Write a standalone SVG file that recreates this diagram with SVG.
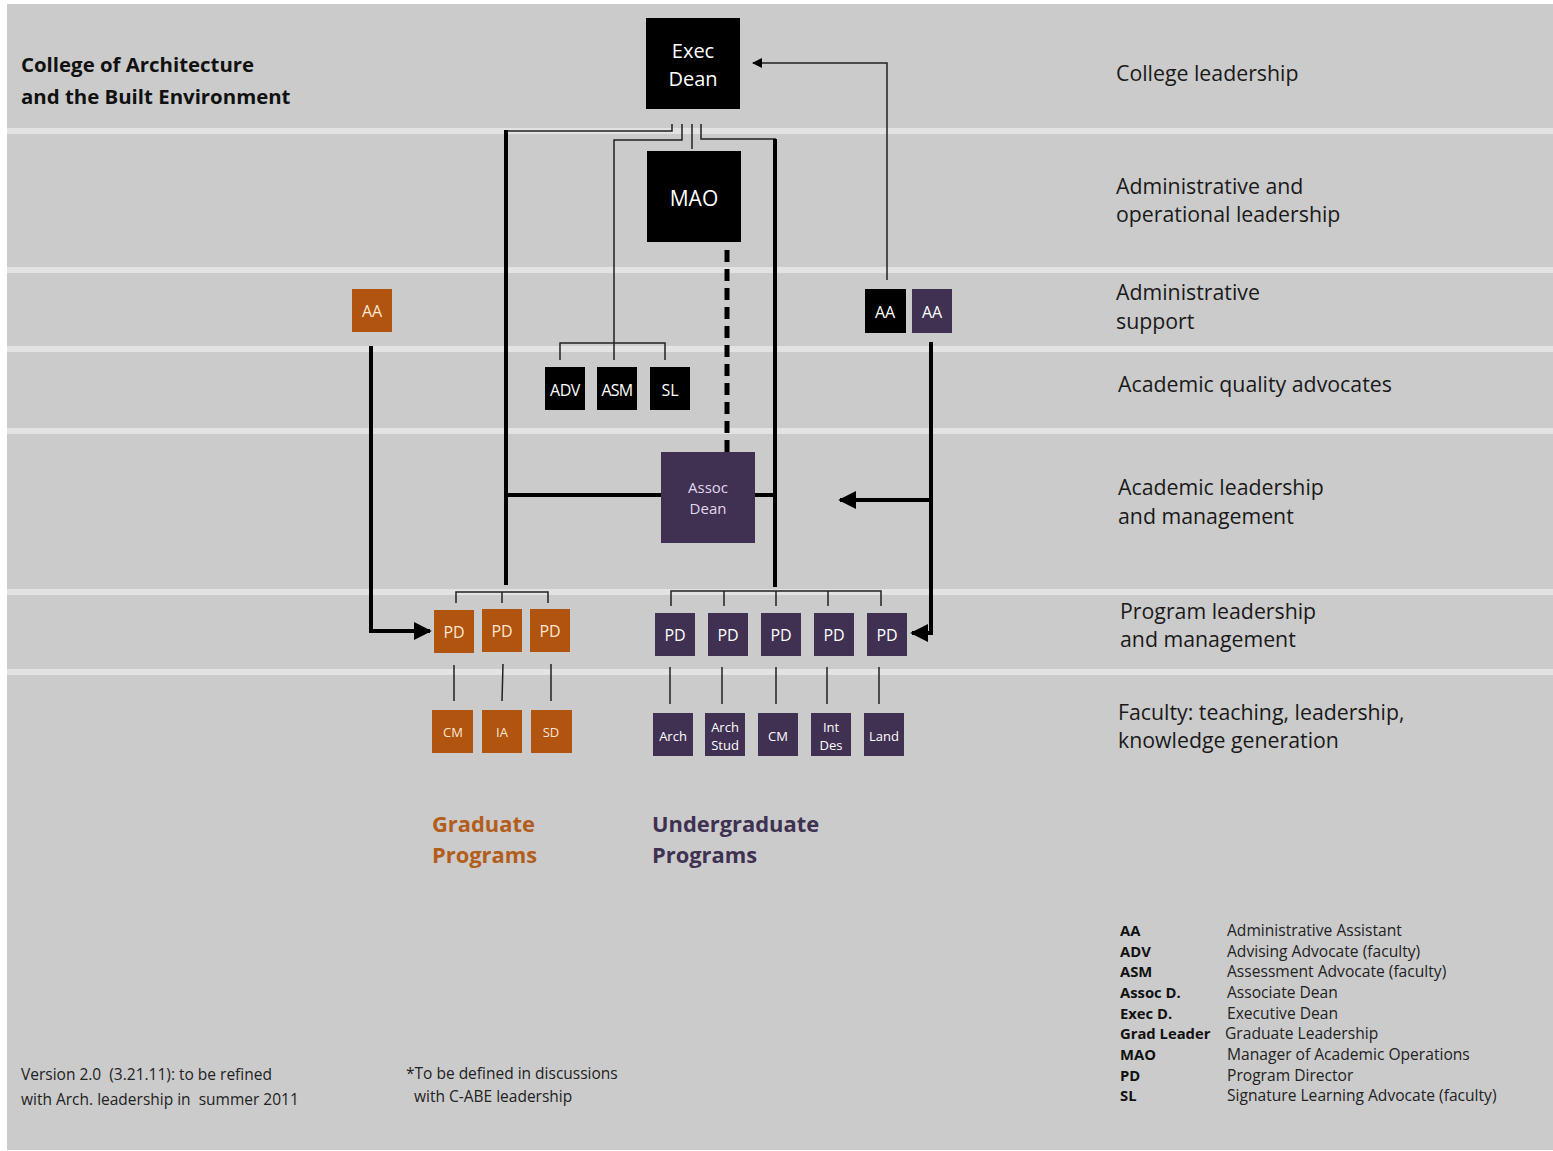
<svg xmlns="http://www.w3.org/2000/svg" width="1553" height="1151" viewBox="0 0 1553 1151">
<defs>
<style>
.bg{fill:#cbcbcb}
.stripe{fill:#e3e3e3}
.blk{fill:#000}
.org{fill:#b0540f}
.pur{fill:#403052}
.t{font-family:"Open Sans","DejaVu Sans",sans-serif;white-space:pre}
.wt{fill:#fff;text-anchor:middle}
.ot{fill:#fbe6d2;text-anchor:middle}
.lt{fill:#1a1a1a;font-size:21.3px}
.lg{fill:#222;font-size:15.6px}
.lgb{fill:#111;font-size:14.8px;font-weight:bold}
.nt{fill:#222;font-size:15.5px}
.thin{stroke:#222;stroke-width:1.5;fill:none}
.thick{stroke:#000;stroke-width:4;fill:none}
</style>
<marker id="ah" viewBox="0 0 10 10" refX="9" refY="5" markerWidth="4.5" markerHeight="4.5" orient="auto" markerUnits="strokeWidth"><path d="M0,0 L10,5 L0,10 z" fill="#000"/></marker>
<marker id="ah2" viewBox="0 0 10 10" refX="9" refY="5" markerWidth="7" markerHeight="7" orient="auto" markerUnits="strokeWidth"><path d="M0,0 L10,5 L0,10 z" fill="#000"/></marker>
</defs>
<rect x="0" y="0" width="1553" height="1151" fill="#fff"/>
<rect class="bg" x="7" y="4" width="1546" height="1146"/>
<g id="stripes">
<rect class="stripe" x="7" y="128" width="1546" height="6"/>
<rect class="stripe" x="7" y="267" width="1546" height="6"/>
<rect class="stripe" x="7" y="346" width="1546" height="6"/>
<rect class="stripe" x="7" y="428" width="1546" height="6"/>
<rect class="stripe" x="7" y="589" width="1546" height="6"/>
<rect class="stripe" x="7" y="669" width="1546" height="6"/>
</g>
<g id="connectors">
<polyline class="thin" points="506,131 672,131 672,124"/>
<polyline class="thin" points="682,124 682,140 614,140 614,360"/>
<line class="thin" x1="692" y1="124" x2="692" y2="149"/>
<polyline class="thin" points="701,124 701,139 776,139"/>
<line class="thick" x1="506" y1="130" x2="506" y2="585"/>
<line class="thick" x1="775" y1="139" x2="775" y2="587"/>
<line class="thick" x1="506" y1="495" x2="661" y2="495"/>
<line class="thick" x1="755" y1="495" x2="775" y2="495"/>
<line x1="727" y1="250" x2="727" y2="452" stroke="#000" stroke-width="5" stroke-dasharray="12,7"/>
<polyline class="thin" points="560,360 560,343 665,343 665,360"/>
<polyline class="thick" points="371,346 371,631 430,631" marker-end="url(#ah)"/>
<polyline class="thin" points="887,280 887,63 753,63" marker-end="url(#ah2)" stroke="#000" stroke-width="2"/>
<polyline class="thick" points="931,342 931,633 912,633" marker-end="url(#ah)"/>
<polyline class="thick" points="931,500 840,500" marker-end="url(#ah)" stroke-width="3"/>
<polyline class="thin" points="456,603 456,592 548,592 548,603"/>
<line class="thin" x1="502" y1="592" x2="502" y2="603"/>
<polyline class="thin" points="671,606 671,591 881,591 881,606"/>
<line class="thin" x1="724" y1="591" x2="724" y2="606"/>
<line class="thin" x1="776" y1="591" x2="776" y2="606"/>
<line class="thin" x1="828" y1="591" x2="828" y2="606"/>
<line class="thin" x1="454" y1="665" x2="454" y2="701"/>
<line class="thin" x1="503" y1="664" x2="502" y2="701"/>
<line class="thin" x1="551" y1="664" x2="551" y2="701"/>
<line class="thin" x1="670" y1="667" x2="670" y2="704"/>
<line class="thin" x1="722" y1="667" x2="722" y2="704"/>
<line class="thin" x1="776" y1="667" x2="776" y2="704"/>
<line class="thin" x1="827" y1="667" x2="827" y2="704"/>
<line class="thin" x1="879" y1="667" x2="879" y2="704"/>
</g>
<g id="exec-dean"><rect class="blk" x="646" y="18" width="94" height="91"/><text class="t wt" x="693" y="58" font-size="20">Exec</text><text class="t wt" x="693" y="86" font-size="20">Dean</text></g>
<g id="mao"><rect class="blk" x="647" y="151" width="94" height="91"/><text class="t wt" x="694" y="206" font-size="21">MAO</text></g>
<g id="aa-grad"><rect class="org" x="352" y="289" width="40" height="43"/><text class="t ot" x="372" y="317" font-size="16">AA</text></g>
<g id="aa-exec"><rect class="blk" x="865" y="289" width="41" height="44"/><text class="t wt" x="885" y="318" font-size="16">AA</text></g>
<g id="aa-ug"><rect class="pur" x="912" y="289" width="40" height="44"/><text class="t wt" x="932" y="318" font-size="16">AA</text></g>
<g id="adv"><rect class="blk" x="545" y="367" width="40" height="43"/><text class="t wt" x="565" y="396" font-size="16" letter-spacing="-0.5">ADV</text></g>
<g id="asm"><rect class="blk" x="597" y="367" width="40" height="43"/><text class="t wt" x="617" y="396" font-size="16" letter-spacing="-0.8">ASM</text></g>
<g id="sl"><rect class="blk" x="650" y="367" width="40" height="43"/><text class="t wt" x="670" y="396" font-size="16">SL</text></g>
<g id="assoc-dean"><rect class="pur" x="661" y="452" width="94" height="91"/><text class="t" x="708" y="493" font-size="15" fill="#e2d6ef" text-anchor="middle">Assoc</text><text class="t" x="708" y="514" font-size="15" fill="#e2d6ef" text-anchor="middle">Dean</text></g>
<g id="pd-g1"><rect class="org" x="434" y="610" width="40" height="43"/><text class="t ot" x="454" y="638" font-size="16">PD</text></g>
<g id="pd-g2"><rect class="org" x="482" y="609" width="40" height="43"/><text class="t ot" x="502" y="637" font-size="16">PD</text></g>
<g id="pd-g3"><rect class="org" x="530" y="609" width="40" height="43"/><text class="t ot" x="550" y="637" font-size="16">PD</text></g>
<g id="pd-u1"><rect class="pur" x="655" y="613" width="40" height="43"/><text class="t wt" x="675" y="641" font-size="16">PD</text></g>
<g id="pd-u2"><rect class="pur" x="708" y="613" width="40" height="43"/><text class="t wt" x="728" y="641" font-size="16">PD</text></g>
<g id="pd-u3"><rect class="pur" x="761" y="613" width="40" height="43"/><text class="t wt" x="781" y="641" font-size="16">PD</text></g>
<g id="pd-u4"><rect class="pur" x="814" y="613" width="40" height="43"/><text class="t wt" x="834" y="641" font-size="16">PD</text></g>
<g id="pd-u5"><rect class="pur" x="867" y="613" width="40" height="43"/><text class="t wt" x="887" y="641" font-size="16">PD</text></g>
<g id="g-cm"><rect class="org" x="432" y="710" width="41" height="43"/><text class="t ot" x="453" y="737" font-size="13">CM</text></g>
<g id="g-ia"><rect class="org" x="482" y="710" width="40" height="43"/><text class="t ot" x="502" y="737" font-size="13">IA</text></g>
<g id="g-sd"><rect class="org" x="531" y="710" width="41" height="43"/><text class="t ot" x="551" y="737" font-size="13">SD</text></g>
<g id="u-arch"><rect class="pur" x="653" y="713" width="40" height="43"/><text class="t wt" x="673" y="741" font-size="13">Arch</text></g>
<g id="u-archstud"><rect class="pur" x="705" y="713" width="40" height="43"/><text class="t wt" x="725" y="732" font-size="13">Arch</text><text class="t wt" x="725" y="750" font-size="13">Stud</text></g>
<g id="u-cm"><rect class="pur" x="758" y="713" width="40" height="43"/><text class="t wt" x="778" y="741" font-size="13">CM</text></g>
<g id="u-intdes"><rect class="pur" x="811" y="713" width="40" height="43"/><text class="t wt" x="831" y="732" font-size="13">Int</text><text class="t wt" x="831" y="750" font-size="13">Des</text></g>
<g id="u-land"><rect class="pur" x="864" y="713" width="40" height="43"/><text class="t wt" x="884" y="741" font-size="13">Land</text></g>
<g id="title">
<text class="t" x="21" y="72" font-size="20.4" font-weight="bold" fill="#111">College of Architecture</text>
<text class="t" x="21" y="104" font-size="20.4" font-weight="bold" fill="#111">and the Built Environment</text>
</g>
<g id="tier-labels">
<text class="t lt" x="1116" y="81">College leadership</text>
<text class="t lt" x="1116" y="194">Administrative and</text>
<text class="t lt" x="1116" y="222">operational leadership</text>
<text class="t lt" x="1116" y="300">Administrative</text>
<text class="t lt" x="1116" y="329">support</text>
<text class="t lt" x="1118" y="392">Academic quality advocates</text>
<text class="t lt" x="1118" y="495">Academic leadership</text>
<text class="t lt" x="1118" y="524">and management</text>
<text class="t lt" x="1120" y="619">Program leadership</text>
<text class="t lt" x="1120" y="647">and management</text>
<text class="t lt" x="1118" y="720">Faculty: teaching, leadership,</text>
<text class="t lt" x="1118" y="748">knowledge generation</text>
</g>
<g id="program-labels">
<text class="t" x="432" y="832" font-size="21.9" font-weight="bold" fill="#b35d1c">Graduate</text>
<text class="t" x="432" y="863" font-size="21.9" font-weight="bold" fill="#b35d1c">Programs</text>
<text class="t" x="652" y="832" font-size="21.9" font-weight="bold" fill="#3f3152">Undergraduate</text>
<text class="t" x="652" y="863" font-size="21.9" font-weight="bold" fill="#3f3152">Programs</text>
</g>
<g id="legend">
<text class="t lgb" x="1120" y="936">AA</text><text class="t lg" x="1227" y="936">Administrative Assistant</text>
<text class="t lgb" x="1120" y="957">ADV</text><text class="t lg" x="1227" y="957">Advising Advocate (faculty)</text>
<text class="t lgb" x="1120" y="977">ASM</text><text class="t lg" x="1227" y="977">Assessment Advocate (faculty)</text>
<text class="t lgb" x="1120" y="998">Assoc D.</text><text class="t lg" x="1227" y="998">Associate Dean</text>
<text class="t lgb" x="1120" y="1019">Exec D.</text><text class="t lg" x="1227" y="1019">Executive Dean</text>
<text class="t lgb" x="1120" y="1039">Grad Leader</text><text class="t lg" x="1225" y="1039">Graduate Leadership</text>
<text class="t lgb" x="1120" y="1060">MAO</text><text class="t lg" x="1227" y="1060">Manager of Academic Operations</text>
<text class="t lgb" x="1120" y="1081">PD</text><text class="t lg" x="1227" y="1081">Program Director</text>
<text class="t lgb" x="1120" y="1101">SL</text><text class="t lg" x="1227" y="1101">Signature Learning Advocate (faculty)</text>
</g>
<g id="notes">
<text class="t nt" x="21" y="1080">Version 2.0  (3.21.11): to be refined</text>
<text class="t nt" x="21" y="1105">with Arch. leadership in  summer 2011</text>
<text class="t nt" x="406" y="1079">*To be defined in discussions</text>
<text class="t nt" x="414" y="1102">with C-ABE leadership</text>
</g>
</svg>
